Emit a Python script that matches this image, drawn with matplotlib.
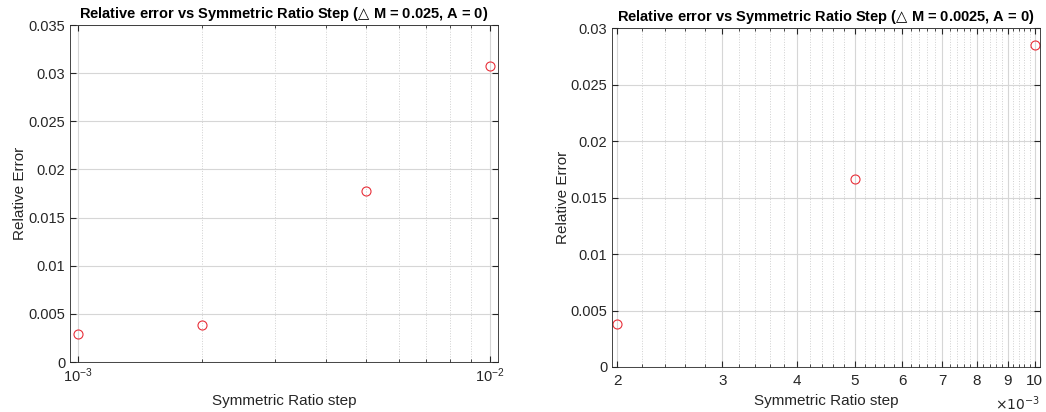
import matplotlib.pyplot as plt
from matplotlib.ticker import FixedLocator, FixedFormatter, NullFormatter

plt.rcParams['font.family'] = ['Liberation Sans', 'DejaVu Sans']

# left plot data (dM = 0.025)
steps1 = [0.001, 0.002, 0.005, 0.01]
err1 = [0.00291, 0.00381, 0.01776, 0.03074]

# right plot data (dM = 0.0025)
steps2 = [0.002, 0.005, 0.01]
err2 = [0.00378, 0.01664, 0.0285]
ticks2 = [2, 3, 4, 5, 6, 7, 8, 9, 10]

axcol = '#262626'

fig = plt.figure(figsize=(10.46, 4.12), dpi=100)
ax1 = fig.add_axes([70 / 1046, 1 - 362 / 412, 428 / 1046, 337 / 412])
ax2 = fig.add_axes([612 / 1046, 1 - 367 / 412, 428 / 1046, 339 / 412])


def style(ax):
    ax.tick_params(which='both', direction='in', top=True, right=True,
                   colors=axcol, labelsize=10.5)
    ax.tick_params(which='major', length=4)
    ax.tick_params(which='minor', length=2)
    for s in ax.spines.values():
        s.set_color(axcol)
        s.set_linewidth(0.6)
    ax.grid(True, which='major', color='#d6d6d6', linewidth=0.8)
    ax.xaxis.grid(True, which='minor', color='#d0d0d0', linestyle=':', linewidth=0.7)
    ax.set_axisbelow(True)


ax1.plot(steps1, err1, 'o', mfc='none', mec='#e8303a', ms=6.5, mew=0.8)
ax1.set_xscale('log')
ax1.set_xlim(0.000956, 0.01046)
ax1.set_ylim(0, 0.035)
ax1.set_yticks([0, 0.005, 0.01, 0.015, 0.02, 0.025, 0.03, 0.035])
ax1.set_yticklabels(['0', '0.005', '0.01', '0.015', '0.02', '0.025', '0.03', '0.035'])
style(ax1)
ax1.set_title('Relative error vs Symmetric Ratio Step ($\\bigtriangleup$ M = 0.025, A = 0)',
              fontsize=10.5, fontweight='bold', pad=5)
ax1.set_xlabel('Symmetric Ratio step', fontsize=11, color=axcol, labelpad=6)
ax1.set_ylabel('Relative Error', fontsize=11, color=axcol, labelpad=1)

ax2.plot(steps2, err2, 'o', mfc='none', mec='#e8303a', ms=6.5, mew=0.8)
ax2.set_xscale('log')
ax2.set_xlim(0.00196, 0.0102)
ax2.set_ylim(0, 0.03)
ax2.xaxis.set_major_locator(FixedLocator([t * 1e-3 for t in ticks2]))
ax2.xaxis.set_major_formatter(FixedFormatter([str(t) for t in ticks2]))
minor2 = [round(t * 1e-3 + k * 0.0002, 6) for t in ticks2[:-1] for k in range(1, 5)]
ax2.xaxis.set_minor_locator(FixedLocator(minor2))
ax2.xaxis.set_minor_formatter(NullFormatter())
ax2.set_yticks([0, 0.005, 0.01, 0.015, 0.02, 0.025, 0.03])
ax2.set_yticklabels(['0', '0.005', '0.01', '0.015', '0.02', '0.025', '0.03'])
style(ax2)
ax2.tick_params(axis='x', labelsize=11, pad=5)
ax2.set_title('Relative error vs Symmetric Ratio Step ($\\bigtriangleup$ M = 0.0025, A = 0)',
              fontsize=10.5, fontweight='bold', pad=5)
ax2.set_xlabel('Symmetric Ratio step', fontsize=11, color=axcol, labelpad=4)
ax2.set_ylabel('Relative Error', fontsize=11, color=axcol, labelpad=0)
ax2.text(1.0, -0.08, '$\\times10^{-3}$', transform=ax2.transAxes, ha='right', va='top',
         fontsize=10, color=axcol)

fig.savefig('out.png', dpi=100)
